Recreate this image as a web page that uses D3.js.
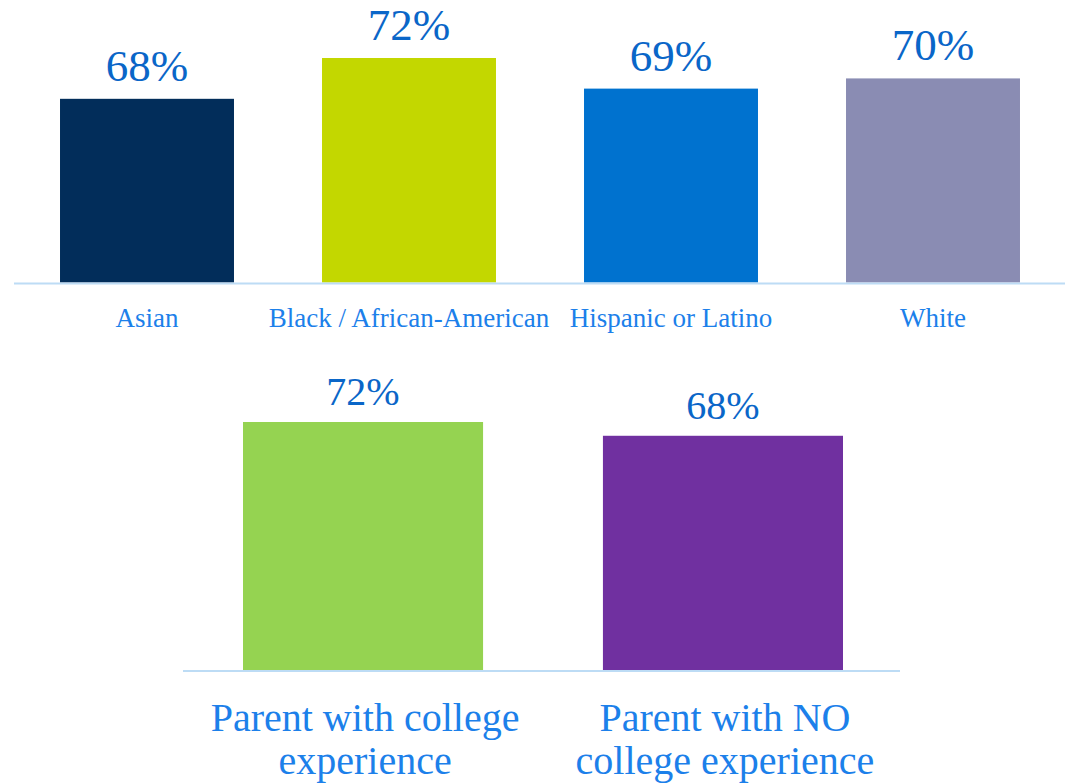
<!DOCTYPE html>
<html>
<head>
<meta charset="utf-8">
<script src="https://cdn.jsdelivr.net/npm/d3@7"></script>
<style>
  html, body { margin: 0; padding: 0; background: #fff; }
  svg { display: block; }
  .val { font-family: "Liberation Serif", "DejaVu Serif", serif; fill: #0A66C8; text-anchor: middle; }
  .cat { font-family: "Liberation Serif", "DejaVu Serif", serif; fill: #1C80EA; text-anchor: middle; }
</style>
</head>
<body>
<svg id="chart" width="1065" height="783"></svg>
<script>
// Share of students by race / ethnicity
const raceCategories = ["Asian", "Black / African-American", "Hispanic or Latino", "White"];
const raceValues = [68, 72, 69, 70];
const raceColors = ["#022D5A", "#C3D700", "#0072CF", "#8A8CB3"];

// Share of students by parental college experience
const parentCategories = [["Parent with college", "experience"], ["Parent with NO", "college experience"]];
const parentValues = [72, 68];
const parentColors = ["#95D351", "#7030A0"];

const svg = d3.select("#chart");
const axisColor = "#BDDCF5";

// ---- Top panel ----
const topBase = 282.5;
const x1 = d3.scaleBand().domain(raceCategories).range([16, 1064])
  .paddingInner(0.336).paddingOuter(0.168);
const y1 = d3.scaleLinear().domain([50, 72]).range([topBase, 58]);

const g1 = svg.append("g");
g1.selectAll("rect").data(raceValues).join("rect")
  .attr("x", (d, i) => x1(raceCategories[i]))
  .attr("width", x1.bandwidth())
  .attr("y", d => y1(d))
  .attr("height", d => topBase - y1(d))
  .attr("fill", (d, i) => raceColors[i]);

g1.append("line")
  .attr("x1", 14).attr("x2", 1065)
  .attr("y1", topBase + 1).attr("y2", topBase + 1)
  .attr("stroke", axisColor).attr("stroke-width", 2);

g1.selectAll("text.val").data(raceValues).join("text")
  .attr("class", "val")
  .attr("x", (d, i) => x1(raceCategories[i]) + x1.bandwidth() / 2)
  .attr("y", d => y1(d) - 18)
  .attr("font-size", 45)
  .text(d => d + "%");

g1.selectAll("text.cat").data(raceCategories).join("text")
  .attr("class", "cat")
  .attr("x", d => x1(d) + x1.bandwidth() / 2)
  .attr("y", 327)
  .attr("font-size", 27)
  .text(d => d);

// ---- Bottom panel ----
const botBase = 670;
const x2 = d3.scaleBand().domain(parentCategories.map(d => d.join(" "))).range([183, 903])
  .paddingInner(0.333).paddingOuter(0.1667);
const y2 = d3.scaleLinear().domain([0, 72]).range([botBase, 422]);

const g2 = svg.append("g");
g2.selectAll("rect").data(parentValues).join("rect")
  .attr("x", (d, i) => x2(parentCategories[i].join(" ")))
  .attr("width", x2.bandwidth())
  .attr("y", d => y2(d))
  .attr("height", d => botBase - y2(d))
  .attr("fill", (d, i) => parentColors[i]);

g2.append("line")
  .attr("x1", 183).attr("x2", 900)
  .attr("y1", botBase + 1).attr("y2", botBase + 1)
  .attr("stroke", axisColor).attr("stroke-width", 2);

g2.selectAll("text.val").data(parentValues).join("text")
  .attr("class", "val")
  .attr("x", (d, i) => x2(parentCategories[i].join(" ")) + x2.bandwidth() / 2)
  .attr("y", d => y2(d) - 17)
  .attr("font-size", 40)
  .text(d => d + "%");

const catGroups = g2.selectAll("text.cat").data(parentCategories).join("text")
  .attr("class", "cat")
  .attr("font-size", 40)
  .attr("transform", d => `translate(${x2(d.join(" ")) + x2.bandwidth() / 2 + 2},0)`);
catGroups.selectAll("tspan").data(d => d).join("tspan")
  .attr("x", 0)
  .attr("y", (d, i) => 731 + i * 43)
  .text(d => d);
</script>
</body>
</html>
